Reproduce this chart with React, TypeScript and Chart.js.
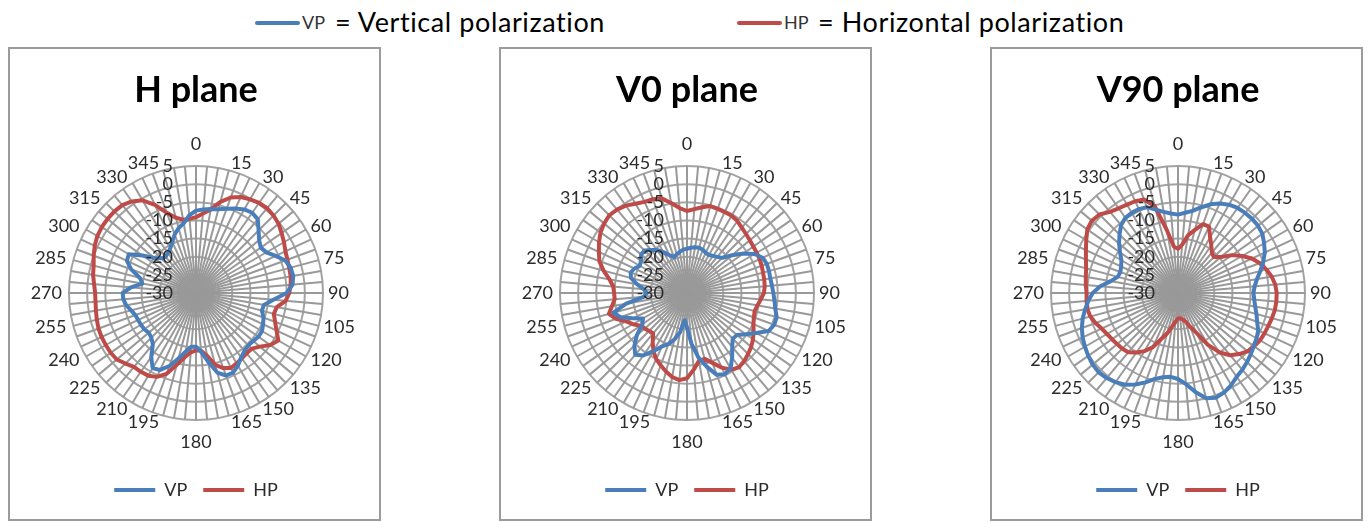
import React, { useEffect, useRef } from "react";
import { Chart, registerables } from "chart.js";

Chart.register(...registerables);

// ---------- data ----------
const ANGLES = [
  0, 5, 10, 15, 20, 25, 30, 35, 40, 45, 50, 55,
  60, 65, 70, 75, 80, 85, 90, 95, 100, 105, 110, 115,
  120, 125, 130, 135, 140, 145, 150, 155, 160, 165, 170, 175,
  180, 185, 190, 195, 200, 205, 210, 215, 220, 225, 230, 235,
  240, 245, 250, 255, 260, 265, 270, 275, 280, 285, 290, 295,
  300, 305, 310, 315, 320, 325, 330, 335, 340, 345, 350, 355,
];
const LABEL_STEP = 15;
const R_TICKS = [5, 0, -5, -10, -15, -20, -25, -30];
const R_MIN = -30;
const R_MAX = 5;
const SERIES_NAMES = ["VP", "HP"];
const PANEL_TITLES = ["H plane", "V0 plane", "V90 plane"];

const H_VP = [
  -7.3, -6.9, -6.5, -6.1, -5.3, -4.3, -3.4, -3.0, -3.5, -5.6, -7.3, -8.2,
  -7.6, -5.8, -3.8, -3.0, -2.8, -3.3, -5.0, -8.6, -11.0, -11.2, -10.2, -9.6,
  -9.0, -9.0, -9.4, -9.6, -9.2, -8.3, -6.9, -5.8, -5.8, -7.3, -10.8, -13.7,
  -15.2, -15.1, -13.6, -11.3, -8.6, -6.6, -6.1, -8.5, -11.5, -12.6, -13.0, -12.6,
  -12.5, -12.4, -12.2, -11.5, -10.5, -9.9, -9.8, -12.0, -15.0, -14.0, -11.0, -9.0,
  -8.6, -12.0, -15.0, -16.5, -17.0, -16.5, -15.8, -14.5, -12.8, -11.5, -10.5, -8.5,
];
const H_HP = [
  -9.1, -8.0, -6.6, -4.0, -2.0, -0.8, -0.2, 0.3, 0.5, 0.2, -0.3, -1.2,
  -2.0, -2.8, -3.2, -3.4, -3.5, -3.8, -4.3, -5.2, -7.4, -7.8, -6.8, -5.5,
  -3.8, -5.0, -7.0, -8.3, -8.3, -8.0, -7.6, -7.2, -8.0, -9.5, -12.4, -14.0,
  -14.2, -13.6, -12.0, -9.5, -6.3, -4.5, -3.7, -3.5, -3.4, -2.5, -1.5, -1.3,
  -1.3, -1.3, -1.4, -1.7, -2.0, -2.2, -2.2, -1.8, -1.2, -0.8, 0.0, 0.8,
  1.4, 1.7, 1.8, 1.8, 1.6, 0.8, -0.5, -3.2, -6.5, -8.5, -9.5, -9.5,
];
const V0_VP = [
  -17.8, -17.5, -17.2, -17.1, -17.3, -17.8, -17.9, -17.5, -17.0, -16.3, -13.8, -11.0,
  -8.5, -7.0, -6.6, -6.6, -6.7, -6.5, -6.2, -5.8, -5.3, -4.4, -4.4, -5.2,
  -8.0, -10.2, -12.0, -12.2, -10.6, -8.3, -6.0, -5.3, -6.0, -9.0, -12.0, -16.0,
  -20.5, -22.5, -19.0, -16.8, -15.0, -13.8, -11.5, -9.0, -7.8, -9.5, -12.0, -15.0,
  -16.0, -13.5, -10.5, -9.0, -13.0, -18.0, -19.0, -18.0, -16.0, -14.0, -13.5, -14.0,
  -15.0, -14.5, -13.5, -13.4, -14.5, -15.5, -17.0, -18.5, -19.5, -19.0, -18.5, -18.0,
];
const V0_HP = [
  -7.4, -6.8, -6.0, -5.2, -5.3, -5.4, -5.4, -5.8, -6.5, -7.0, -7.4, -7.7,
  -7.8, -7.9, -8.1, -8.3, -8.4, -8.5, -8.8, -9.6, -10.3, -10.7, -10.4, -9.8,
  -8.8, -7.8, -6.9, -6.2, -5.5, -5.0, -5.6, -7.3, -9.5, -11.2, -11.0, -8.8,
  -6.5, -5.9, -6.5, -7.6, -8.8, -9.9, -11.5, -13.5, -15.5, -15.2, -14.8, -14.3,
  -12.8, -11.5, -9.2, -7.7, -9.0, -10.0, -9.9, -9.6, -8.3, -6.2, -4.3, -3.2,
  -2.0, -0.9, -0.2, 0.3, 0.0, -0.6, -1.6, -2.3, -2.5, -3.0, -4.8, -6.5,
];
const V90_VP = [
  -8.4, -7.8, -7.0, -5.6, -4.0, -2.8, -1.9, -1.4, -1.2, -1.1, -1.2, -1.6,
  -2.6, -3.6, -5.0, -6.5, -7.9, -8.8, -9.2, -8.9, -8.4, -7.6, -6.8, -5.6,
  -5.0, -4.5, -3.8, -3.1, -2.4, -1.8, -0.7, 0.2, 0.7, 0.0, -2.3, -4.8,
  -6.3, -6.8, -6.4, -5.5, -3.8, -2.2, -0.8, 0.0, 0.6, 0.9, 0.7, 0.2,
  -0.4, -1.0, -1.8, -2.8, -4.0, -5.2, -6.5, -8.5, -11.2, -12.8, -13.1, -12.7,
  -12.0, -10.5, -8.8, -7.2, -5.6, -4.7, -4.5, -4.5, -4.8, -6.2, -7.3, -8.0,
];
const V90_HP = [
  -17.8, -16.6, -13.8, -12.0, -9.8, -9.8, -12.3, -14.0, -15.5, -16.0, -14.6, -11.8,
  -9.6, -7.5, -6.0, -4.8, -3.8, -3.1, -2.8, -2.8, -2.9, -3.2, -3.5, -3.7,
  -3.9, -4.4, -5.0, -6.2, -7.6, -10.0, -13.5, -17.8, -20.0, -21.8, -22.6, -23.0,
  -23.0, -22.0, -20.6, -18.5, -16.5, -13.5, -11.5, -10.0, -8.7, -8.3, -8.1, -7.8,
  -7.4, -6.8, -5.8, -5.0, -4.6, -4.7, -4.8, -4.5, -4.2, -3.8, -3.0, -2.0,
  -0.8, 0.5, 1.0, 0.6, -0.8, -1.5, -1.9, -2.1, -2.6, -5.2, -12.5, -17.2,
];

// ---------- styles ----------
const FONT = "Lato, Carlito, 'Open Sans', sans-serif";
const BLUE = "#4A7EBB";
const RED = "#BE4B48";
const GRID = "#a3a3a3";
const SPOKE = "#999999";
const TEXT = "#2b2b2b";

const tickLabelPlugin = {
  id: "excelTickLabels",
  afterDatasetsDraw(chart: any) {
    const s = chart.scales.r;
    const ctx = chart.ctx;
    ctx.save();
    ctx.font = `18px ${FONT}`;
    ctx.fillStyle = TEXT;
    ctx.textAlign = "right";
    ctx.textBaseline = "middle";
    R_TICKS.forEach((v) => {
      const d = s.getDistanceFromCenterForValue(v);
      ctx.fillText(String(v), s.xCenter - 23, s.yCenter - d);
    });
    ctx.restore();
  },
};

const pointLabelPlugin = {
  id: "excelPointLabels",
  afterDraw(chart: any) {
    const s = chart.scales.r;
    const ctx = chart.ctx;
    ctx.save();
    ctx.font = `18px ${FONT}`;
    ctx.fillStyle = TEXT;
    ctx.textBaseline = "middle";
    const R = s.drawingArea;
    ANGLES.forEach((a, i) => {
      if (a % LABEL_STEP !== 0) return;
      const p = s.getPointPosition(i, R + 4);
      const c = Math.cos((a * Math.PI) / 180);
      let x = p.x;
      let y = p.y;
      if (a === 0) {
        ctx.textAlign = "center";
        y = p.y - 18;
      } else if (a === 180) {
        ctx.textAlign = "center";
        y = p.y + 18;
      } else if (a < 180) {
        ctx.textAlign = "left";
        x = p.x + 1;
        y = p.y - 3 * c;
      } else {
        ctx.textAlign = "right";
        x = p.x - 3;
        y = p.y - 3 * c;
      }
      ctx.fillText(String(a), x, y);
    });
    ctx.restore();
  },
};

function Panel({ left, title, vp, hp }: { left: number; title: string; vp: number[]; hp: number[] }) {
  const ref = useRef<HTMLCanvasElement>(null);
  useEffect(() => {
    const chart = new Chart(ref.current as HTMLCanvasElement, {
      type: "radar",
      data: {
        labels: ANGLES.map(String),
        datasets: [
          {
            label: SERIES_NAMES[0],
            data: vp,
            borderColor: BLUE,
            backgroundColor: BLUE,
            borderWidth: 4,
            pointRadius: 0,
            fill: false,
            tension: 0,
            borderCapStyle: "round",
            borderJoinStyle: "round",
          },
          {
            label: SERIES_NAMES[1],
            data: hp,
            borderColor: RED,
            backgroundColor: RED,
            borderWidth: 4,
            pointRadius: 0,
            fill: false,
            tension: 0,
            borderCapStyle: "round",
            borderJoinStyle: "round",
          },
        ],
      },
      options: {
        responsive: false,
        animation: false,
        devicePixelRatio: 1,
        layout: { padding: { left: 59, right: 56, top: 0, bottom: 10 } },
        plugins: {
          title: {
            display: true,
            text: title,
            color: "#000",
            font: { family: FONT, size: 36, weight: "bold", lineHeight: 1.2 },
            padding: { top: 20, bottom: 8.8 },
          },
          legend: {
            display: true,
            position: "bottom",
            labels: {
              usePointStyle: true,
              pointStyle: "line",
              pointStyleWidth: 41,
              padding: 16,
              color: TEXT,
              font: { family: FONT, size: 18 },
            },
          },
          tooltip: { enabled: false },
        },
        scales: {
          r: {
            min: R_MIN,
            max: R_MAX,
            startAngle: 0,
            ticks: { stepSize: 5, display: false },
            grid: { circular: true, color: GRID, lineWidth: 2 },
            angleLines: { display: true, color: SPOKE, lineWidth: 2 },
            pointLabels: { display: false },
          },
        },
      } as any,
      plugins: [tickLabelPlugin, pointLabelPlugin],
    });
    return () => chart.destroy();
  }, []);
  return (
    <div
      style={{
        position: "absolute",
        left,
        top: 47,
        width: 369,
        height: 470,
        border: "2px solid #9b9b9b",
        overflow: "hidden",
        background: "#fff",
      }}
    >
      <canvas ref={ref} width={369} height={470} style={{ display: "block", width: 369, height: 470 }} />
    </div>
  );
}

function TopLegendItem({ x, color, code, text, textX }: { x: number; color: string; code: string; text: string; textX: number }) {
  return (
    <>
      <div
        style={{
          position: "absolute",
          left: x,
          top: 21,
          width: 45,
          height: 4,
          borderRadius: 2,
          background: color,
        }}
      />
      <div
        style={{
          position: "absolute",
          left: x + 47,
          top: 13,
          fontFamily: FONT,
          fontSize: 18,
          lineHeight: "18px",
          color: "#333",
          whiteSpace: "nowrap",
        }}
      >
        {code}
      </div>
      <div
        style={{
          position: "absolute",
          left: textX,
          top: 8,
          fontFamily: FONT,
          fontSize: 27,
          lineHeight: "27px",
          letterSpacing: "0.6px",
          color: "#000",
          whiteSpace: "nowrap",
        }}
      >
        {text}
      </div>
    </>
  );
}

export default function App() {
  return (
    <div
      style={{
        position: "fixed",
        left: 0,
        top: 0,
        width: 1369,
        height: 522,
        overflow: "hidden",
        background: "#fff",
      }}
    >
      <TopLegendItem x={255} color={BLUE} code="VP" text="= Vertical polarization" textX={335} />
      <TopLegendItem x={737} color={RED} code="HP" text="= Horizontal polarization" textX={818} />
      <Panel left={8} title={PANEL_TITLES[0]} vp={H_VP} hp={H_HP} />
      <Panel left={499} title={PANEL_TITLES[1]} vp={V0_VP} hp={V0_HP} />
      <Panel left={990} title={PANEL_TITLES[2]} vp={V90_VP} hp={V90_HP} />
    </div>
  );
}
